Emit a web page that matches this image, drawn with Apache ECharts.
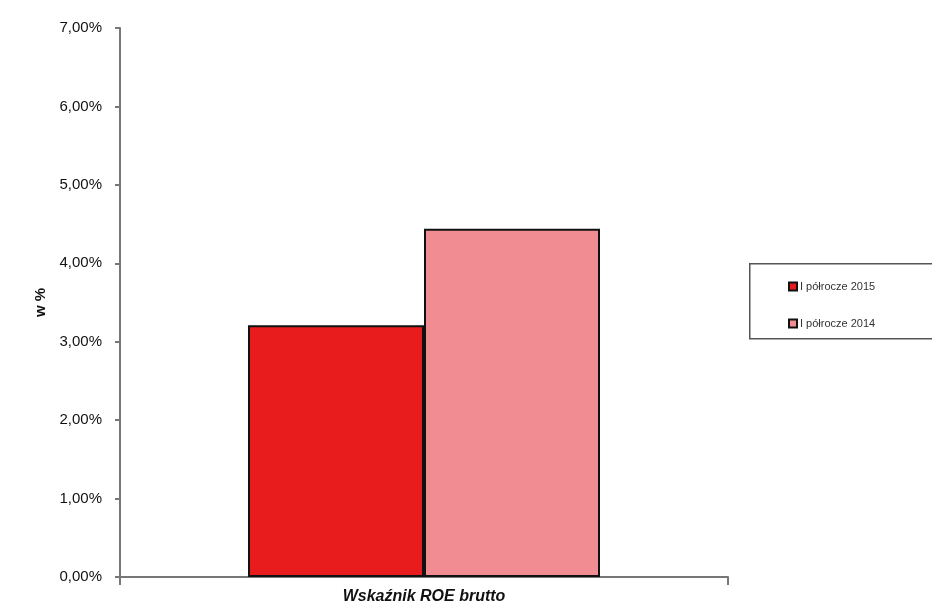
<!DOCTYPE html>
<html>
<head>
<meta charset="utf-8">
<script src="https://cdn.jsdelivr.net/npm/echarts@6/dist/echarts.min.js"></script>
<style>
  html, body { margin: 0; padding: 0; background: #fff; }
  #chart { width: 932px; height: 611px; }
</style>
</head>
<body>
<div id="chart"></div>
<script>
// ROE brutto, first half of the year
const categories = ['Wskaźnik ROE brutto'];
const seriesNames = ['I półrocze 2015', 'I półrocze 2014'];
const values2015 = [3.21];
const values2014 = [4.44];
const yTicks = [0, 1, 2, 3, 4, 5, 6, 7];

const chart = echarts.init(document.getElementById('chart'));
const fmt = v => v.toFixed(2).replace('.', ',') + '%';

chart.setOption({
  animation: false,
  backgroundColor: '#ffffff',
  grid: { left: 120, right: 204, top: 28, bottom: 34, containLabel: false },
  graphic: [{
    type: 'rect',
    left: 749, top: 263,
    shape: { width: 200, height: 75 },
    style: { fill: '#ffffff', stroke: '#555', lineWidth: 1.5 },
    z: 1
  }],
  legend: {
    orient: 'vertical',
    left: 783, top: 276,
    itemWidth: 8, itemHeight: 8,
    itemGap: 26,
    icon: 'rect',
    z: 5,
    textStyle: { fontFamily: 'Liberation Sans, Arial', fontSize: 11, color: '#333', padding: [0, 0, 0, -2] },
    data: seriesNames
  },
  xAxis: {
    type: 'category',
    data: categories,
    axisLine: { lineStyle: { color: '#777', width: 2 } },
    axisTick: { show: true, length: 8, lineStyle: { color: '#777', width: 2 } },
    axisLabel: {
      margin: 12,
      fontFamily: 'Liberation Sans, Arial',
      fontSize: 16, fontWeight: 'bold', fontStyle: 'italic', color: '#111'
    }
  },
  yAxis: {
    type: 'value',
    min: yTicks[0], max: yTicks[yTicks.length - 1], interval: 1,
    name: 'w %',
    nameLocation: 'middle',
    nameGap: 72,
    nameRotate: 90,
    nameTextStyle: { fontFamily: 'Liberation Sans, Arial', fontSize: 15, fontWeight: 'bold', color: '#111' },
    axisLine: { show: true, lineStyle: { color: '#777', width: 2 } },
    axisTick: { show: true, length: 5, lineStyle: { color: '#777', width: 2 } },
    splitLine: { show: false },
    axisLabel: {
      margin: 18,
      formatter: fmt,
      fontFamily: 'Liberation Sans, Arial',
      fontSize: 15, color: '#111'
    }
  },
  series: [
    {
      name: seriesNames[0], type: 'bar', data: values2015,
      barWidth: 176, barGap: '0%',
      itemStyle: { color: '#e81c1c', borderColor: '#111', borderWidth: 2 }
    },
    {
      name: seriesNames[1], type: 'bar', data: values2014,
      barWidth: 176,
      itemStyle: { color: '#f08c92', borderColor: '#111', borderWidth: 2 }
    }
  ]
});
</script>
</body>
</html>
